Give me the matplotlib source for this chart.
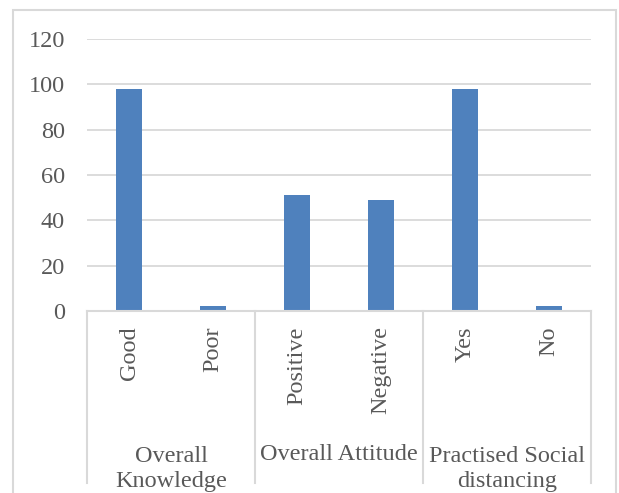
import matplotlib

matplotlib.use("Agg")

import matplotlib.pyplot as plt
import matplotlib.transforms as mtransforms
from matplotlib.patches import Rectangle
import numpy as np

categories = ["Good", "Poor", "Positive", "Negative", "Yes", "No"]
values = [98, 2, 51, 49, 98, 2]
groups = ["Overall\nKnowledge", "Overall Attitude", "Practised Social\ndistancing"]
group_sizes = [2, 2, 2]
yticks = [0, 20, 40, 60, 80, 100, 120]

BAR_COLOR = "#4f81bd"
TEXT_COLOR = "#595959"
LINE_COLOR = "#d9d9d9"
FONT = "Liberation Serif"
FS = 17.5

W, H = 619, 493
fig = plt.figure(figsize=(W / 100, H / 100), dpi=100)
plt.rcParams["font.family"] = FONT

# outer chart frame
fig.patches.append(Rectangle((13 / W, -0.05), (616 - 13) / W, 1.05 - 10 / H,
                             transform=fig.transFigure, fill=False,
                             edgecolor=LINE_COLOR, linewidth=1.5))

ax_left, ax_right, ax_top, ax_bottom = 87, 591, 39, 311
ax = fig.add_axes([ax_left / W, (H - ax_bottom) / H,
                   (ax_right - ax_left) / W, (ax_bottom - ax_top) / H])

x = np.arange(len(categories))
ax.bar(x, values, width=0.31, color=BAR_COLOR, zorder=3)

ax.set_xlim(-0.5, len(categories) - 0.5)
ax.set_ylim(0, 120)
ax.set_yticks(yticks)
ax.set_yticklabels([str(v) for v in yticks], fontsize=FS, color=TEXT_COLOR, family=FONT)
ax.tick_params(axis="y", length=0, pad=16)
ax.yaxis.grid(True, color=LINE_COLOR, linewidth=1.3, zorder=0)

ax.set_xticks(x)
ax.set_xticklabels(categories, rotation=90, fontsize=FS, color=TEXT_COLOR,
                   family=FONT, va="top", ha="center")
ax.tick_params(axis="x", length=0, pad=11)

for side in ["top", "right", "left"]:
    ax.spines[side].set_visible(False)
ax.spines["bottom"].set_color(LINE_COLOR)
ax.spines["bottom"].set_linewidth(1.5)
ax.spines["bottom"].set_zorder(4)

trans = mtransforms.blended_transform_factory(ax.transData, ax.transAxes)
px = 1.0 / (ax_bottom - ax_top)
sep_bottom = -(483 - ax_bottom) * px
bounds = np.concatenate([[0], np.cumsum(group_sizes)]) - 0.5
for b in bounds:
    ax.plot([b, b], [0, sep_bottom], transform=trans, color=LINE_COLOR,
            linewidth=1.5, clip_on=False)

for i, label in enumerate(groups):
    center = (bounds[i] + bounds[i + 1]) / 2
    n_lines = label.count("\n") + 1
    y_center = 455 if n_lines == 1 else 469
    ax.text(center, -(y_center - ax_bottom) * px, label, transform=trans,
            ha="center", va="center", fontsize=FS, color=TEXT_COLOR,
            family=FONT, linespacing=1.2)

fig.savefig("out.png", dpi=100)
